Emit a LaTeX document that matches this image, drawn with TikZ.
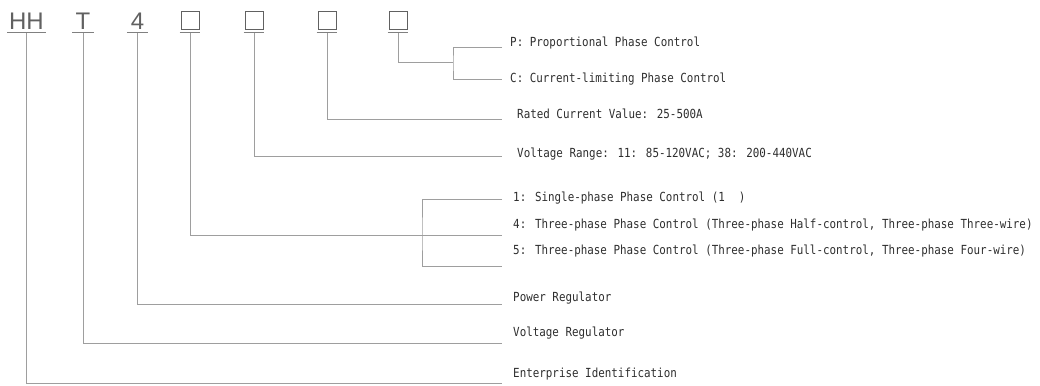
\documentclass[tikz,border=0pt]{standalone}
\usepackage{fontspec}
\setmainfont{Liberation Sans}
\newfontfamily\labelfont[FakeStretch=0.87]{DejaVu Sans Mono}

\begin{document}
\begin{tikzpicture}[x=1pt, y=-1pt,
sym/.style = {anchor=south, inner xsep=0pt, inner ysep=3pt, minimum width=21pt,
	text=black!62, font=\fontsize{24}{24}\selectfont},
slot/.style = {draw=black!62, line width=0.9pt, minimum size=18pt, inner sep=0pt},
uline/.style = {draw=black!50, line width=1pt},
lbl/.style = {anchor=west, inner sep=0pt, text=black!82,
	font=\labelfont\fontsize{12.5}{14}\selectfont},
lead/.style = {draw=black!38, line width=1pt}]
\useasboundingbox (0,0) rectangle (1040,385);

\node[sym, minimum width=38pt] (hh) at (26.5,33) {HH};
\node[sym] (t) at (83,33) {T};
\node[sym] (four) at (137.5,33) {4};
\foreach \n/\x in {b1/190,b2/254,b3/327,b4/398}
	\node[slot] (\n) at (\x,20.5) {};

\foreach \n in {hh,t,four}
	\draw[uline] (\n.south west) -- (\n.south east);
\foreach \n in {b1,b2,b3,b4}
	\draw[uline] ([shift={(-1pt,-3pt)}]\n.south west) -- ([shift={(1pt,-3pt)}]\n.south east);

\node[lbl] (lp) at (510,43) {P: Proportional Phase Control};
\node[lbl] (lc) at (510,79) {C: Current-limiting Phase Control};
\node[lbl] (lrated) at (517,114) {Rated Current Value: 25-500A};
\node[lbl] (lrange) at (517,154) {Voltage Range: 11: 85-120VAC; 38: 200-440VAC};
\node[lbl] (lone) at (513,198) {1: Single-phase Phase Control (1\hspace{14pt})};
\node[lbl] (lthree) at (513,225) {4: Three-phase Phase Control (Three-phase Half-control, Three-phase Three-wire)};
\node[lbl] (lfull) at (513,251) {5: Three-phase Phase Control (Three-phase Full-control, Three-phase Four-wire)};
\node[lbl] (lpower) at (513,298) {Power Regulator};
\node[lbl] (lvreg) at (513,333) {Voltage Regulator};
\node[lbl] (lent) at (513,374) {Enterprise Identification};

\coordinate (ep) at (502,48);
\coordinate (ec) at (502,80);
\coordinate (erated) at (502,119);
\coordinate (erange) at (502,156);
\coordinate (eone) at (502,199);
\coordinate (ethree) at (502,235);
\coordinate (efull) at (502,266);
\coordinate (epower) at (502,304);
\coordinate (evreg) at (502,343);
\coordinate (eent) at (502,383.5);
\coordinate (jpc) at (453,63);
\coordinate (jphase) at (422,235);

\draw[lead] (hh.south) |- (eent);
\draw[lead] (t.south) |- (evreg);
\draw[lead] (four.south) |- (epower);
\draw[lead] ([yshift=-3pt]b1.south) |- (ethree);
\draw[lead] ([yshift=-3pt]b2.south) |- (erange);
\draw[lead] ([yshift=-3pt]b3.south) |- (erated);
\draw[lead] ([yshift=-3pt]b4.south) |- (jpc);
\draw[lead] (ep) -| (jpc) |- (ec);
\draw[lead] (eone) -| (jphase) |- (efull);
\end{tikzpicture}
\end{document}
